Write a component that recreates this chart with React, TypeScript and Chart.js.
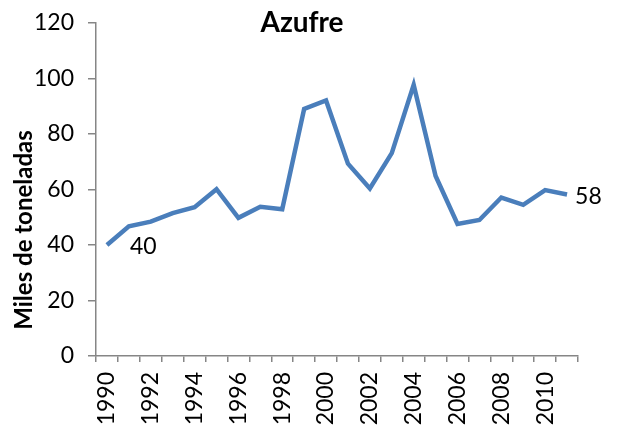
import React, { useEffect, useRef } from "react";
import { Chart, registerables } from "chart.js";

Chart.register(...registerables);

const years = [
  "1990", "1991", "1992", "1993", "1994", "1995", "1996", "1997", "1998", "1999", "2000",
  "2001", "2002", "2003", "2004", "2005", "2006", "2007", "2008", "2009", "2010", "2011",
];
const azufre = [
  40.0, 46.7, 48.4, 51.5, 53.6, 60.1, 49.8, 53.8, 52.9, 89.0, 92.1,
  69.3, 60.4, 73.1, 97.7, 64.9, 47.6, 49.0, 57.1, 54.5, 59.8, 58.2,
];
const labelledPoints = [0, 21];
const yTicks = { min: 0, max: 120, step: 20 };
const chartTitle = "Azufre";
const yTitle = "Miles de toneladas";

const FONT = "Lato, 'Open Sans', sans-serif";
const AXIS = "#868686";
const LINE = "#4a7ebb";

export default function App() {
  const ref = useRef<HTMLCanvasElement | null>(null);

  useEffect(() => {
    if (!ref.current) return;
    const textPlugin = {
      id: "texts",
      afterDatasetsDraw(chart: any) {
        const ctx = chart.ctx;
        ctx.save();
        ctx.fillStyle = "#000";
        // title
        ctx.font = `bold 28px ${FONT}`;
        ctx.textAlign = "center";
        ctx.textBaseline = "middle";
        ctx.fillText(chartTitle, 302, 23);
        // y title
        ctx.save();
        ctx.translate(24, 230);
        ctx.rotate(-Math.PI / 2);
        ctx.font = `bold 24px ${FONT}`;
        ctx.fillText(yTitle, 0, 0);
        ctx.restore();
        // data labels
        const meta = chart.getDatasetMeta(0);
        ctx.font = `23px ${FONT}`;
        ctx.textAlign = "left";
        labelledPoints.forEach((i, k) => {
          const p = meta.data[i];
          const v = Math.round(azufre[i]);
          const dx = k === 0 ? 23 : 8;
          ctx.fillText(String(v), p.x + dx, p.y + 2);
        });
        ctx.restore();
      },
    };

    const chart = new Chart(ref.current, {
      type: "line",
      data: {
        labels: years,
        datasets: [
          {
            data: azufre,
            borderColor: LINE,
            borderWidth: 4.5,
            pointRadius: 0,
            tension: 0,
            fill: false,
          },
        ],
      },
      options: {
        animation: false,
        responsive: true,
        maintainAspectRatio: false,
        layout: { padding: { top: 23, right: 40, left: 0, bottom: 0 } },
        plugins: { legend: { display: false }, title: { display: false }, tooltip: { enabled: false } },
        scales: {
          x: {
            offset: true,
            afterFit: (s: any) => {
              s.height = 71;
              s.paddingLeft = 0;
              s.paddingRight = 0;
            },
            grid: { offset: true, drawOnChartArea: false, tickLength: 6, color: AXIS, lineWidth: 1.5 },
            border: { color: AXIS, width: 1.5 },
            ticks: {
              autoSkip: false,
              maxRotation: 90,
              minRotation: 90,
              padding: 10,
              color: "#000",
              font: { family: FONT, size: 23 },
              callback: (_v: any, i: number) => (i % 2 === 0 ? years[i] : ""),
            },
          },
          y: {
            min: yTicks.min,
            max: yTicks.max,
            afterFit: (s: any) => {
              s.width = 96;
              s.paddingTop = 0;
              s.paddingBottom = 0;
            },
            grid: { drawOnChartArea: false, tickLength: 8, color: AXIS, lineWidth: 1.5 },
            border: { color: AXIS, width: 1.5 },
            ticks: {
              stepSize: yTicks.step,
              padding: 14,
              color: "#000",
              font: { family: FONT, size: 23 },
            },
          },
        },
      },
      plugins: [textPlugin],
    });
    return () => chart.destroy();
  }, []);

  return (
    <div style={{ position: "fixed", left: 0, top: 0, width: 618, height: 427, background: "#fff" }}>
      <canvas ref={ref} />
    </div>
  );
}
